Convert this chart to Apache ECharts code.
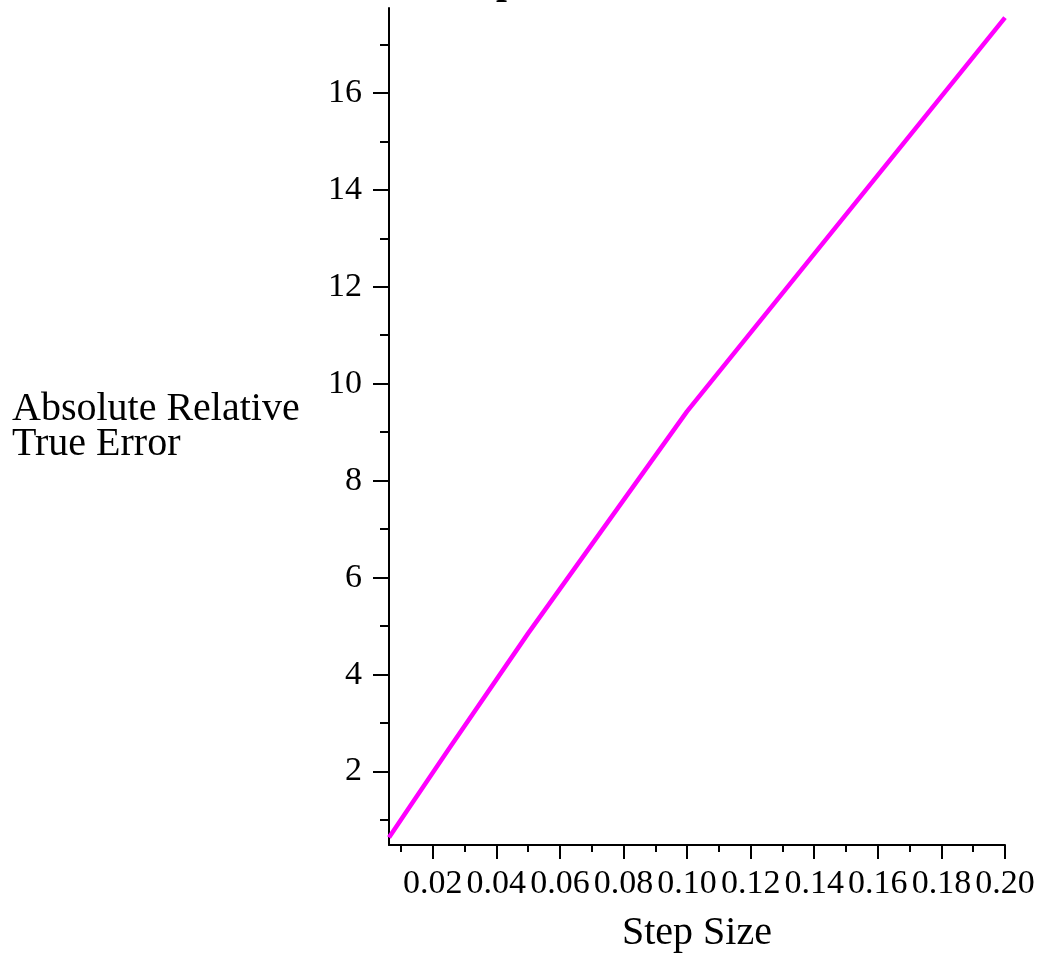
<!DOCTYPE html>
<html>
<head>
<meta charset="utf-8">
<script src="https://cdn.jsdelivr.net/npm/echarts@6/dist/echarts.min.js"></script>
<style>
html,body{margin:0;padding:0;background:#fff;}
#chart{width:1042px;height:960px;}
</style>
</head>
<body>
<div id="chart"></div>
<script>
// Data
const stepSizes = [0.00625, 0.0125, 0.025, 0.05, 0.1, 0.2];
const errors = [0.64, 1.25, 2.46, 4.85, 9.43, 17.55];

// Tick values
const xMajorTicks = [0.02, 0.04, 0.06, 0.08, 0.10, 0.12, 0.14, 0.16, 0.18, 0.20];
const xMinorTicks = [0.01, 0.03, 0.05, 0.07, 0.09, 0.11, 0.13, 0.15, 0.17, 0.19];
const yMajorTicks = [2, 4, 6, 8, 10, 12, 14, 16];
const yMinorTicks = [1, 3, 5, 7, 9, 11, 13, 15, 17];

const xRange = [0.00625, 0.2];
const yRange = [0.485, 17.75];

const titleText = 'Absolute Relative True Error\nvs Step Size';
const xName = 'Step Size';
const yName = 'Absolute Relative\nTrue Error';

const FONT = '"Liberation Serif", "Times New Roman", serif';

const chart = echarts.init(document.getElementById('chart'), null, {renderer: 'canvas'});

const lineStyle = {color: '#000', width: 2};

chart.setOption({
  animation: false,
  backgroundColor: '#fff',
  title: {
    text: titleText,
    left: 492,
    top: -85,
    textAlign: 'center',
    textStyle: {fontFamily: FONT, fontWeight: 'bold', fontSize: 39, lineHeight: 42, color: '#000'}
  },
  grid: {left: 389, right: 37, top: 8, bottom: 115, containLabel: false},
  xAxis: [
    {
      type: 'value', min: xRange[0], max: xRange[1],
      position: 'bottom',
      name: xName, nameLocation: 'middle', nameGap: 68,
      nameTextStyle: {fontFamily: FONT, fontSize: 40, color: '#000'},
      axisLine: {show: true, onZero: false, lineStyle: lineStyle},
      axisTick: {show: true, inside: false, length: 14, lineStyle: lineStyle, customValues: xMajorTicks},
      axisLabel: {show: true, margin: 22, fontFamily: FONT, fontSize: 34, color: '#000',
        customValues: xMajorTicks, formatter: v => v.toFixed(2)},
      splitLine: {show: false}
    },
    {
      type: 'value', min: xRange[0], max: xRange[1],
      position: 'bottom',
      axisLine: {show: false, onZero: false},
      axisTick: {show: true, inside: false, length: 7, lineStyle: lineStyle, customValues: xMinorTicks},
      axisLabel: {show: false},
      splitLine: {show: false}
    }
  ],
  yAxis: [
    {
      type: 'value', min: yRange[0], max: yRange[1],
      position: 'left',
      name: yName, nameLocation: 'middle', nameRotate: 0, nameGap: 377,
      nameTextStyle: {fontFamily: FONT, fontSize: 40, lineHeight: 35, color: '#000', align: 'left'},
      axisLine: {show: true, onZero: false, lineStyle: lineStyle},
      axisTick: {show: true, inside: false, length: 16, lineStyle: lineStyle, customValues: yMajorTicks},
      axisLabel: {show: true, margin: 27, fontFamily: FONT, fontSize: 34, color: '#000',
        customValues: yMajorTicks, formatter: v => String(Math.round(v))},
      splitLine: {show: false}
    },
    {
      type: 'value', min: yRange[0], max: yRange[1],
      position: 'left',
      axisLine: {show: false, onZero: false},
      axisTick: {show: true, inside: false, length: 9, lineStyle: lineStyle, customValues: yMinorTicks},
      axisLabel: {show: false},
      splitLine: {show: false}
    }
  ],
  series: [{
    type: 'line',
    xAxisIndex: 0, yAxisIndex: 0,
    data: stepSizes.map((h, i) => [h, errors[i]]),
    showSymbol: false,
    symbol: 'none',
    lineStyle: {color: '#ff00ff', width: 4.5},
    clip: false
  }]
});
</script>
</body>
</html>
